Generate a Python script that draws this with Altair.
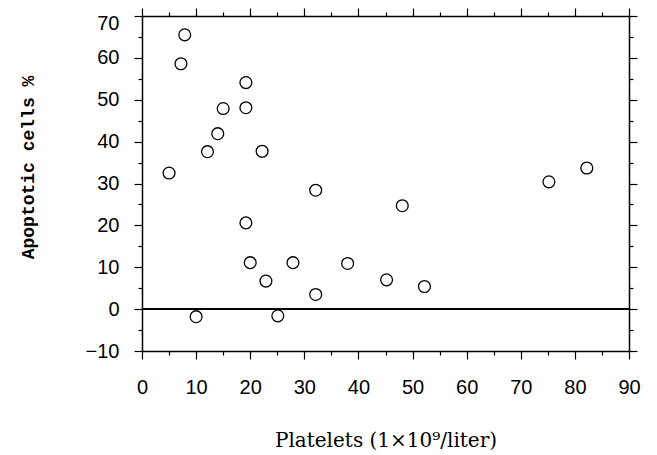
import altair as alt
import pandas as pd

platelets = [5.0, 7.2, 7.9, 12.1, 14.0, 15.0, 19.2, 19.2, 22.2, 32.1, 19.2, 20.0,
             22.9, 10.0, 25.1, 27.9, 32.1, 38.0, 45.2, 52.2, 48.1, 75.2, 82.2]
apoptotic = [32.5, 58.6, 65.5, 37.6, 41.9, 47.9, 54.1, 48.1, 37.7, 28.4, 20.6, 11.1,
             6.7, -1.8, -1.6, 11.1, 3.5, 10.9, 7.0, 5.4, 24.7, 30.4, 33.7]
x_ticks = list(range(0, 91, 5))
y_ticks = list(range(-10, 71, 5))
x_title = "Platelets (1×10⁹/liter)"
y_title = "Apoptotic cells %"

df = pd.DataFrame({"platelets": platelets, "apoptotic": apoptotic})

major = "datum.value % 10 === 0"
tick_size = {"condition": {"test": major, "value": 8}, "value": 4}
label_expr = f"{major} ? datum.label : ''"

common = dict(
    grid=False,
    domainColor="black",
    domainWidth=1.5,
    tickColor="black",
    tickWidth=1.2,
    tickSize=tick_size,
    labelOverlap=False,
    labelFlush=False,
)

x_scale = alt.Scale(domain=[0, 90], nice=False, zero=False)
y_scale = alt.Scale(domain=[-10, 70], nice=False, zero=False)

points = alt.Chart(df).mark_point(
    shape="circle", filled=False, size=140, stroke="black", strokeWidth=1.3, opacity=1
).encode(
    x=alt.X("platelets:Q", scale=x_scale, axis=alt.Axis(
        orient="bottom", values=x_ticks, labelExpr=label_expr,
        labelFont="Liberation Sans", labelFontSize=20, labelColor="black",
        labelPadding=18,
        title=x_title, titleFont="DejaVu Serif", titleFontSize=20,
        titleFontWeight="normal", titleColor="black",
        titleY=89, titleBaseline="middle", **common)),
    y=alt.Y("apoptotic:Q", scale=y_scale, axis=alt.Axis(
        orient="left", values=y_ticks, labelExpr=label_expr,
        labelFont="Liberation Sans", labelFontSize=20, labelColor="black",
        labelPadding=15,
        labelBaseline={"condition": {"test": "datum.value === 70", "value": "top"},
                       "value": "middle"},
        labelOffset={"condition": {"test": "datum.value === 70", "value": -3},
                     "value": 0},
        title=y_title, titleFont="Liberation Mono", titleFontSize=18,
        titleFontWeight="bold", titleColor="black", titleAngle=-90,
        titleX=-114, titleY=151, titleBaseline="middle", titleAlign="center",
        **common)),
)

frame = alt.Chart(df).mark_point(opacity=0).encode(
    x=alt.X("platelets:Q", scale=x_scale, axis=alt.Axis(
        orient="top", values=x_ticks, labels=False, title=None, **common)),
    y=alt.Y("apoptotic:Q", scale=y_scale, axis=alt.Axis(
        orient="right", values=y_ticks, labels=False, title=None, **common)),
)

zero = alt.Chart(df).mark_rule(color="black", strokeWidth=1.5).encode(
    y=alt.YDatum(0, axis=None)
)

chart = alt.layer(points, zero, frame).resolve_axis(
    x="independent", y="independent"
).properties(
    width=487,
    height=335,
    autosize=alt.AutoSizeParams(type="none"),
    padding={"left": 134, "top": 8, "right": 20, "bottom": 100},
).configure_view(stroke=None).configure(background="white")

chart.save("out.html", embed_options={"renderer": "svg", "actions": False})
